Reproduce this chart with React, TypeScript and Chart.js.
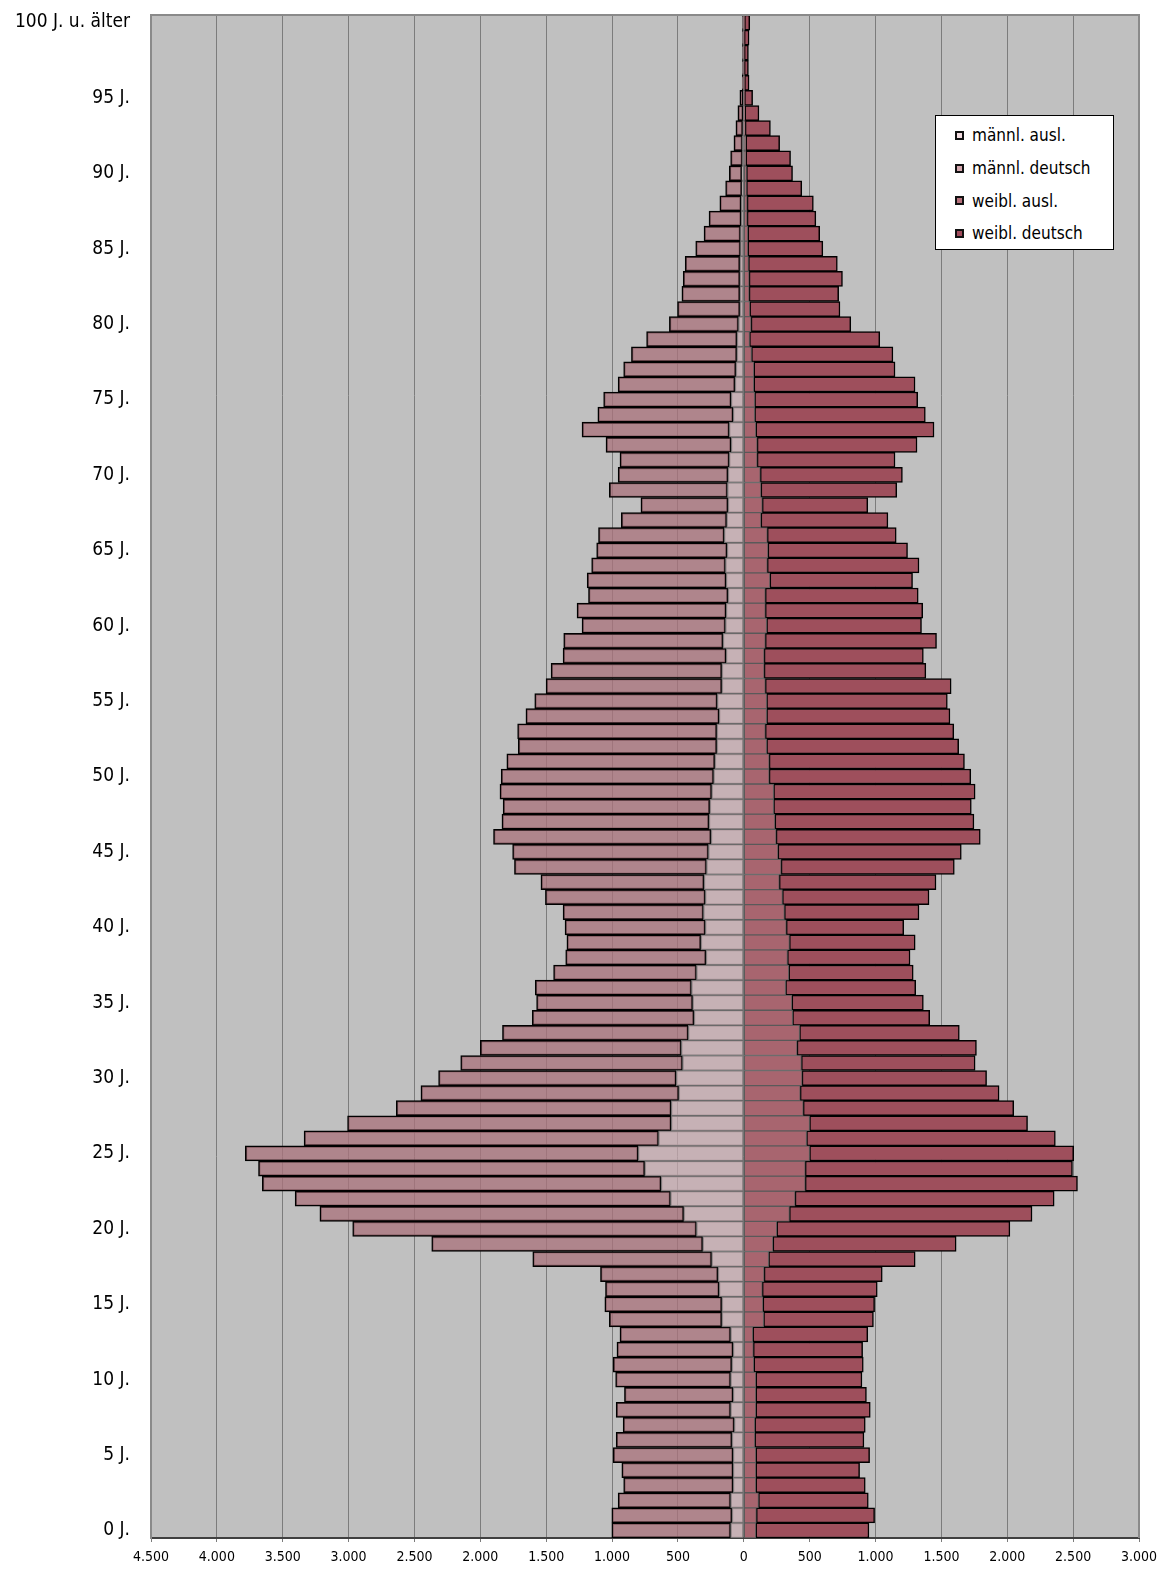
import React, { useEffect, useRef } from 'react';
import { Chart, registerables } from 'chart.js';

Chart.register(...registerables);

const FONT = "'DejaVu Sans Condensed', 'Liberation Sans Narrow', 'DejaVu Sans', sans-serif";

// Categories: ages 0 .. 100+
const AGE_LABELS: string[] = Array.from({ length: 101 }, (_, i) =>
  i === 100 ? '100 J. u. älter' : `${i} J.`
);

// X axis range (persons)
const X_MIN = -4500;
const X_MAX = 3000;
const X_STEP = 500;

// männl. ausl. (age 0 .. 100)
const MALE_FOREIGN = [
  100, 90, 100, 81, 81, 81, 90, 72, 100, 81,
  100, 91, 81, 100, 167, 167, 187, 196, 244, 312,
  359, 456, 556, 628, 752, 801, 647, 551, 551, 494,
  513, 465, 474, 421, 378, 388, 397, 359, 287, 326,
  292, 306, 292, 302, 283, 268, 249, 264, 258, 244,
  229, 220, 205, 205, 187, 201, 167, 167, 134, 158,
  139, 134, 120, 134, 139, 127, 148, 130, 120, 124,
  120, 110, 96, 110, 81, 96, 67, 60, 53, 52,
  40, 30, 30, 30, 30, 25, 25, 20, 20, 15,
  15, 10, 10, 8, 5, 5, 3, 3, 2, 2,
  2,
];

// männl. deutsch
const MALE_GERMAN = [
  902, 912, 854, 831, 845, 911, 879, 844, 869, 825,
  873, 901, 882, 840, 854, 888, 863, 892, 1358, 2057,
  2610, 2762, 2850, 3027, 2932, 2983, 2691, 2457, 2087, 1957,
  1804, 1684, 1526, 1411, 1228, 1185, 1186, 1085, 1065, 1017,
  1065, 1066, 1214, 1238, 1458, 1487, 1651, 1572, 1569, 1607,
  1613, 1579, 1507, 1512, 1467, 1386, 1334, 1296, 1238, 1209,
  1089, 1132, 1059, 1055, 1016, 990, 955, 800, 661, 897,
  834, 830, 950, 1118, 1027, 968, 887, 852, 800, 686,
  525, 473, 440, 430, 415, 340, 277, 244, 162, 123,
  95, 90, 65, 52, 40, 25, 9, 7, 8, 8,
  8,
];

// weibl. ausl.
const FEMALE_FOREIGN = [
  91, 95, 111, 91, 91, 91, 83, 83, 91, 91,
  91, 76, 72, 68, 150, 145, 140, 154, 188, 221,
  250, 346, 389, 466, 466, 499, 476, 499, 451, 428,
  442, 437, 404, 423, 370, 365, 317, 341, 331, 346,
  322, 308, 293, 269, 283, 259, 245, 236, 226, 226,
  192, 192, 173, 163, 173, 173, 163, 154, 154, 163,
  173, 163, 163, 198, 178, 183, 178, 130, 140, 130,
  125, 101, 101, 91, 82, 82, 76, 76, 58, 43,
  55, 45, 40, 40, 35, 30, 30, 25, 25, 20,
  20, 15, 15, 10, 8, 5, 5, 3, 3, 3,
  5,
];

// weibl. deutsch
const FEMALE_GERMAN = [
  859, 898, 834, 831, 788, 864, 829, 839, 869, 840,
  806, 831, 830, 873, 834, 848, 873, 897, 1113, 1391,
  1770, 1842, 1967, 2067, 2029, 2005, 1889, 1655, 1598, 1510,
  1401, 1319, 1362, 1213, 1041, 998, 988, 945, 931, 955,
  892, 1022, 1113, 1190, 1315, 1392, 1550, 1511, 1501, 1530,
  1531, 1483, 1458, 1431, 1392, 1372, 1411, 1228, 1209, 1300,
  1176, 1195, 1161, 1083, 1152, 1060, 979, 964, 801, 1031,
  1079, 1047, 1214, 1353, 1296, 1238, 1224, 1072, 1074, 989,
  757, 685, 680, 709, 675, 570, 546, 522, 503, 420,
  350, 340, 257, 192, 107, 62, 35, 32, 32, 37,
  40,
];

const SERIES_NAMES = ['männl. ausl.', 'männl. deutsch', 'weibl. ausl.', 'weibl. deutsch'];
const LEGEND_COLORS = ['#f3dde1', '#d5a8af', '#b8717c', '#a04b5b'];

function formatThousands(v: number): string {
  const s = String(Math.round(Math.abs(v)));
  return s.replace(/\B(?=(\d{3})+(?!\d))/g, '.');
}

const framePlugin = {
  id: 'frame',
  beforeDraw(chart: any) {
    const { ctx, chartArea } = chart;
    const { left, top, right, bottom } = chartArea;
    ctx.save();
    ctx.fillStyle = '#c0c0c0';
    ctx.fillRect(left, top, right - left, bottom - top);
    ctx.restore();
  },
  afterDraw(chart: any) {
    const { ctx, chartArea } = chart;
    const { left, top, right, bottom } = chartArea;
    ctx.save();
    ctx.strokeStyle = '#8a8a8a';
    ctx.lineWidth = 2;
    ctx.beginPath();
    ctx.moveTo(left, top);
    ctx.lineTo(right, top);
    ctx.lineTo(right, bottom);
    ctx.stroke();
    ctx.restore();
  },
};

export default function App() {
  const canvasRef = useRef<HTMLCanvasElement | null>(null);

  useEffect(() => {
    const canvas = canvasRef.current;
    if (!canvas) return;
    const chart = new Chart(canvas, {
      type: 'bar',
      data: {
        labels: AGE_LABELS,
        datasets: [
          {
            label: SERIES_NAMES[0],
            data: MALE_FOREIGN.map((v) => -v),
            backgroundColor: 'rgba(200,170,176,0.72)',
            borderColor: '#6a6a6a',
            borderWidth: 1,
            borderSkipped: false,
            categoryPercentage: 1,
            barPercentage: 1,
            stack: 's',
          },
          {
            label: SERIES_NAMES[1],
            data: MALE_GERMAN.map((v) => -v),
            backgroundColor: 'rgba(170,114,124,0.76)',
            borderColor: '#000000',
            borderWidth: 1.5,
            borderSkipped: false,
            categoryPercentage: 1,
            barPercentage: 1,
            stack: 's',
          },
          {
            label: SERIES_NAMES[2],
            data: FEMALE_FOREIGN,
            backgroundColor: '#a8656f',
            borderColor: '#5a5a5a',
            borderWidth: 1,
            borderSkipped: false,
            categoryPercentage: 1,
            barPercentage: 1,
            stack: 's',
          },
          {
            label: SERIES_NAMES[3],
            data: FEMALE_GERMAN,
            backgroundColor: '#9e4f5c',
            borderColor: '#000000',
            borderWidth: 1.5,
            borderSkipped: false,
            categoryPercentage: 1,
            barPercentage: 1,
            stack: 's',
          },
        ],
      },
      options: {
        indexAxis: 'y',
        animation: false,
        responsive: false,
        devicePixelRatio: 1,
        layout: { padding: { top: 15, right: 22, left: 0, bottom: 0 } },
        plugins: {
          legend: { display: false },
          tooltip: { enabled: false },
        },
        scales: {
          x: {
            type: 'linear',
            stacked: true,
            min: X_MIN,
            max: X_MAX,
            ticks: {
              stepSize: X_STEP,
              autoSkip: false,
              maxRotation: 0,
              padding: 7,
              color: '#000',
              font: { family: FONT, size: 14 },
              callback: (v: any) => formatThousands(Number(v)),
            },
            grid: {
              display: true,
              color: '#7c7c7c',
              lineWidth: 1,
              tickLength: 4,
              drawTicks: true,
            },
            border: { display: true, color: '#404040', width: 2 },
            afterFit: (scale: any) => {
              scale.height = 31;
              scale.paddingLeft = 0;
              scale.paddingRight = 0;
              scale.paddingTop = 0;
              scale.paddingBottom = 0;
            },
          },
          y: {
            type: 'category',
            stacked: true,
            reverse: true,
            ticks: {
              autoSkip: false,
              padding: 21,
              color: '#000',
              font: { family: FONT, size: 19 },
              callback: function (this: any, value: any, index: number) {
                return index % 5 === 0 ? this.getLabelForValue(value) : '';
              },
            },
            grid: { display: false, drawTicks: false },
            border: { display: true, color: '#8a8a8a', width: 2 },
            afterFit: (scale: any) => {
              scale.width = 151;
              scale.paddingLeft = 0;
              scale.paddingRight = 0;
              scale.paddingTop = 0;
              scale.paddingBottom = 0;
            },
          },
        },
      },
      plugins: [framePlugin],
    });
    return () => {
      chart.destroy();
    };
  }, []);

  const rowCenters = [134, 167, 199.5, 232];

  return (
    <div style={{ position: 'absolute', left: 0, top: 0, width: 1161, height: 1569, background: '#fff' }}>
      <canvas ref={canvasRef} width={1161} height={1569} style={{ width: 1161, height: 1569, display: 'block' }} />
      <div
        style={{
          position: 'absolute',
          left: 935,
          top: 115,
          width: 179,
          height: 135,
          background: '#ffffff',
          border: '1px solid #000',
          boxSizing: 'border-box',
        }}
      >
        {SERIES_NAMES.map((name, i) => (
          <div
            key={name}
            style={{
              position: 'absolute',
              left: 19,
              top: rowCenters[i] - 115 - 11,
              height: 22,
              display: 'flex',
              alignItems: 'center',
              whiteSpace: 'nowrap',
            }}
          >
            <span
              style={{
                display: 'inline-block',
                width: 9,
                height: 9,
                boxSizing: 'border-box',
                border: '2px solid #111',
                background: LEGEND_COLORS[i],
                marginRight: 8,
              }}
            />
            <span style={{ fontFamily: FONT, fontSize: 17, color: '#000', lineHeight: '22px' }}>{name}</span>
          </div>
        ))}
      </div>
    </div>
  );
}
